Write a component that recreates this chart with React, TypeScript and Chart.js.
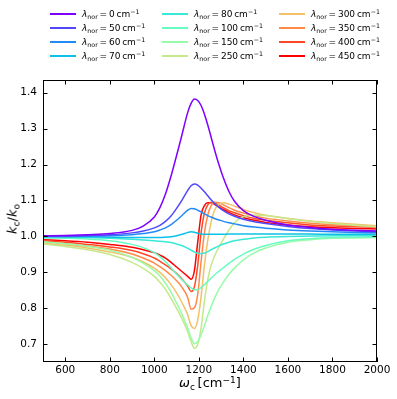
import React, { useEffect, useRef } from "react";
import { Chart, registerables } from "chart.js";

Chart.register(...registerables);

const OMEGA = [500, 600, 700, 800, 900, 950, 1000, 1025, 1050, 1075, 1100, 1125, 1150, 1165, 1180, 1195, 1210, 1225, 1240, 1255, 1270, 1290, 1310, 1335, 1360, 1400, 1450, 1500, 1600, 1700, 1800, 1900, 2000];

const LAMBDAS = [0, 50, 60, 70, 80, 100, 150, 250, 300, 350, 400, 450];

const K_L0 = [1.002, 1.003, 1.005, 1.008, 1.017, 1.029, 1.054, 1.080, 1.118, 1.168, 1.225, 1.285, 1.345, 1.370, 1.382, 1.378, 1.364, 1.340, 1.310, 1.276, 1.242, 1.200, 1.163, 1.125, 1.098, 1.072, 1.055, 1.045, 1.032, 1.025, 1.020, 1.017, 1.015];
const K_L50 = [1.001, 1.001, 1.003, 1.005, 1.010, 1.015, 1.024, 1.031, 1.042, 1.057, 1.078, 1.102, 1.128, 1.141, 1.146, 1.143, 1.134, 1.124, 1.113, 1.102, 1.092, 1.081, 1.072, 1.063, 1.056, 1.048, 1.041, 1.036, 1.028, 1.022, 1.018, 1.015, 1.013];
const K_L60 = [1.000, 1.000, 1.001, 1.002, 1.005, 1.008, 1.013, 1.018, 1.024, 1.033, 1.045, 1.059, 1.073, 1.078, 1.077, 1.073, 1.068, 1.063, 1.058, 1.054, 1.050, 1.046, 1.042, 1.038, 1.035, 1.030, 1.026, 1.023, 1.018, 1.015, 1.013, 1.011, 1.010];
const K_L70 = [1.000, 1.000, 0.999, 0.998, 0.997, 0.997, 0.997, 0.997, 0.998, 0.999, 1.002, 1.006, 1.011, 1.013, 1.012, 1.009, 1.007, 1.006, 1.006, 1.006, 1.006, 1.006, 1.006, 1.007, 1.007, 1.007, 1.007, 1.007, 1.007, 1.007, 1.006, 1.006, 1.006];
const K_L80 = [0.999, 0.998, 0.997, 0.995, 0.992, 0.990, 0.988, 0.987, 0.985, 0.983, 0.979, 0.974, 0.967, 0.962, 0.957, 0.953, 0.952, 0.954, 0.958, 0.963, 0.968, 0.974, 0.979, 0.984, 0.988, 0.992, 0.996, 0.998, 1.000, 1.001, 1.002, 1.002, 1.002];
const K_L100 = [0.996, 0.995, 0.993, 0.988, 0.978, 0.969, 0.955, 0.944, 0.930, 0.913, 0.895, 0.879, 0.865, 0.857, 0.852, 0.852, 0.858, 0.866, 0.875, 0.884, 0.893, 0.903, 0.913, 0.925, 0.936, 0.951, 0.965, 0.975, 0.988, 0.994, 0.997, 0.998, 0.999];
const K_L150 = [0.985, 0.980, 0.973, 0.962, 0.942, 0.926, 0.905, 0.890, 0.870, 0.845, 0.815, 0.782, 0.745, 0.718, 0.702, 0.708, 0.727, 0.752, 0.780, 0.805, 0.828, 0.853, 0.873, 0.895, 0.912, 0.935, 0.955, 0.968, 0.984, 0.991, 0.995, 0.996, 0.997];
const K_L250 = [0.979, 0.972, 0.963, 0.950, 0.928, 0.911, 0.889, 0.873, 0.853, 0.828, 0.800, 0.770, 0.735, 0.708, 0.689, 0.700, 0.745, 0.820, 0.880, 0.920, 0.945, 0.970, 0.992, 1.018, 1.038, 1.055, 1.060, 1.058, 1.050, 1.042, 1.036, 1.031, 1.027];
const K_L300 = [0.982, 0.976, 0.968, 0.957, 0.942, 0.929, 0.912, 0.900, 0.885, 0.866, 0.843, 0.815, 0.782, 0.752, 0.744, 0.768, 0.832, 0.920, 0.990, 1.040, 1.072, 1.090, 1.094, 1.090, 1.084, 1.075, 1.066, 1.059, 1.050, 1.043, 1.038, 1.034, 1.030];
const K_L350 = [0.985, 0.980, 0.973, 0.965, 0.951, 0.940, 0.926, 0.916, 0.905, 0.892, 0.877, 0.858, 0.830, 0.798, 0.802, 0.840, 0.930, 1.010, 1.060, 1.085, 1.095, 1.094, 1.088, 1.080, 1.073, 1.065, 1.057, 1.051, 1.043, 1.037, 1.033, 1.030, 1.028];
const K_L400 = [0.988, 0.984, 0.978, 0.971, 0.961, 0.952, 0.940, 0.931, 0.921, 0.910, 0.897, 0.881, 0.862, 0.847, 0.860, 0.920, 1.010, 1.065, 1.088, 1.095, 1.093, 1.087, 1.080, 1.072, 1.066, 1.058, 1.050, 1.045, 1.038, 1.032, 1.029, 1.027, 1.026];
const K_L450 = [0.991, 0.988, 0.984, 0.978, 0.970, 0.963, 0.955, 0.948, 0.940, 0.928, 0.915, 0.902, 0.889, 0.881, 0.905, 0.985, 1.060, 1.086, 1.094, 1.094, 1.089, 1.082, 1.075, 1.067, 1.060, 1.052, 1.045, 1.039, 1.032, 1.027, 1.024, 1.022, 1.021];

const SERIES = [K_L0, K_L50, K_L60, K_L70, K_L80, K_L100, K_L150, K_L250, K_L300, K_L350, K_L400, K_L450];

const COLORS = [
  "rgb(128,0,255)", "rgb(81,72,252)", "rgb(35,138,245)", "rgb(12,193,232)",
  "rgb(58,232,215)", "rgb(104,252,193)", "rgb(151,252,167)", "rgb(197,232,138)",
  "rgb(243,193,106)", "rgb(255,138,72)", "rgb(255,72,36)", "rgb(255,0,0)",
];

const X_TICKS = [600, 800, 1000, 1200, 1400, 1600, 1800, 2000];
const Y_TICKS = [0.7, 0.8, 0.9, 1.0, 1.1, 1.2, 1.3, 1.4];

const FONT = "'DejaVu Sans', sans-serif";

const frameTicks = {
  id: "frameTicks",
  afterDatasetsDraw(chart: any) {
    const { ctx, chartArea, scales } = chart;
    const { left, right, top, bottom } = chartArea;
    const L = 4.5;
    ctx.save();
    ctx.strokeStyle = "#000";
    ctx.lineWidth = 1;
    ctx.beginPath();
    X_TICKS.forEach((v) => {
      const px = Math.round(scales.x.getPixelForValue(v)) + 0.5;
      ctx.moveTo(px, bottom);
      ctx.lineTo(px, bottom - L);
      ctx.moveTo(px, top);
      ctx.lineTo(px, top + L);
    });
    Y_TICKS.forEach((v) => {
      const py = Math.round(scales.y.getPixelForValue(v)) + 0.5;
      ctx.moveTo(left, py);
      ctx.lineTo(left + L, py);
      ctx.moveTo(right, py);
      ctx.lineTo(right - L, py);
    });
    ctx.stroke();
    ctx.strokeRect(left + 0.5, top + 0.5, right - left - 1, bottom - top - 1);
    ctx.restore();
  },
};

const subStyle: React.CSSProperties = { fontSize: "70%", verticalAlign: "baseline", position: "relative", top: "0.3em", lineHeight: 0 };
const supStyle: React.CSSProperties = { fontSize: "70%", verticalAlign: "baseline", position: "relative", top: "-0.45em", lineHeight: 0 };

export default function App() {
  const ref = useRef<HTMLCanvasElement | null>(null);

  useEffect(() => {
    if (!ref.current) return;
    const datasets = SERIES.map((vals, i) => ({
      label: `λnor = ${LAMBDAS[i]} cm-1`,
      data: OMEGA.map((x, j) => ({ x, y: vals[j] })),
      borderColor: COLORS[i],
      backgroundColor: COLORS[i],
      borderWidth: 1.5,
      pointRadius: 0,
      fill: false,
      cubicInterpolationMode: "monotone" as const,
    }));
    const chart = new Chart(ref.current, {
      type: "line",
      data: { datasets },
      options: {
        animation: false,
        responsive: false,
        devicePixelRatio: 1,
        layout: { padding: { top: 80, right: 20, left: 0, bottom: 0 } },
        plugins: { legend: { display: false }, tooltip: { enabled: false } },
        scales: {
          x: {
            type: "linear",
            min: 500,
            max: 2000,
            grid: { display: false, drawTicks: false },
            border: { display: false },
            afterBuildTicks: (s: any) => { s.ticks = X_TICKS.map((v) => ({ value: v })); },
            afterFit: (s: any) => { s.height = 37; },
            ticks: { color: "#000", font: { family: FONT, size: 10.5 }, padding: 2, maxRotation: 0, callback: (v: any) => String(v) },
          },
          y: {
            type: "linear",
            min: 0.651,
            max: 1.435,
            grid: { display: false, drawTicks: false },
            border: { display: false },
            afterBuildTicks: (s: any) => { s.ticks = Y_TICKS.map((v) => ({ value: v })); },
            afterFit: (s: any) => { s.width = 43; },
            ticks: { color: "#000", font: { family: FONT, size: 10.5 }, padding: 6, callback: (v: any) => Number(v).toFixed(1) },
          },
        },
      },
      plugins: [frameTicks],
    });
    return () => chart.destroy();
  }, []);

  const colX = [50, 162, 279];
  const rowY = [14, 28, 42, 56];

  return (
    <div style={{ position: "absolute", left: 0, top: 0, width: 397, height: 399, fontFamily: FONT, color: "#000", background: "#fff" }}>
      <canvas ref={ref} width={397} height={399} style={{ position: "absolute", left: 0, top: 0, width: 397, height: 399 }} />
      {LAMBDAS.map((lam, i) => {
        const col = Math.floor(i / 4);
        const row = i % 4;
        return (
          <div key={lam} style={{ position: "absolute", left: colX[col], top: rowY[row] - 7, height: 14, display: "flex", alignItems: "center", whiteSpace: "nowrap", fontSize: 9 }}>
            <span style={{ display: "inline-block", width: 26, height: 0, borderTop: `2px solid ${COLORS[i]}`, marginRight: 6 }} />
            <span>
              <i>λ</i><span style={subStyle}>nor</span>{"\u2009=\u2009"}{lam}{"\u2009"}cm<span style={supStyle}>−1</span>
            </span>
          </div>
        );
      })}
      <div style={{ position: "absolute", left: 0, width: 420, top: 375, textAlign: "center", fontSize: 13 }}>
        <i>ω</i><span style={subStyle}>c</span>{"\u2009"}[cm<span style={supStyle}>−1</span>]
      </div>
      <div style={{ position: "absolute", left: 12, top: 219, transform: "translate(-50%, -50%) rotate(-90deg)", fontSize: 13, whiteSpace: "nowrap" }}>
        <i>k</i><span style={subStyle}>c</span>/<i>k</i><span style={subStyle}>o</span>
      </div>
    </div>
  );
}
